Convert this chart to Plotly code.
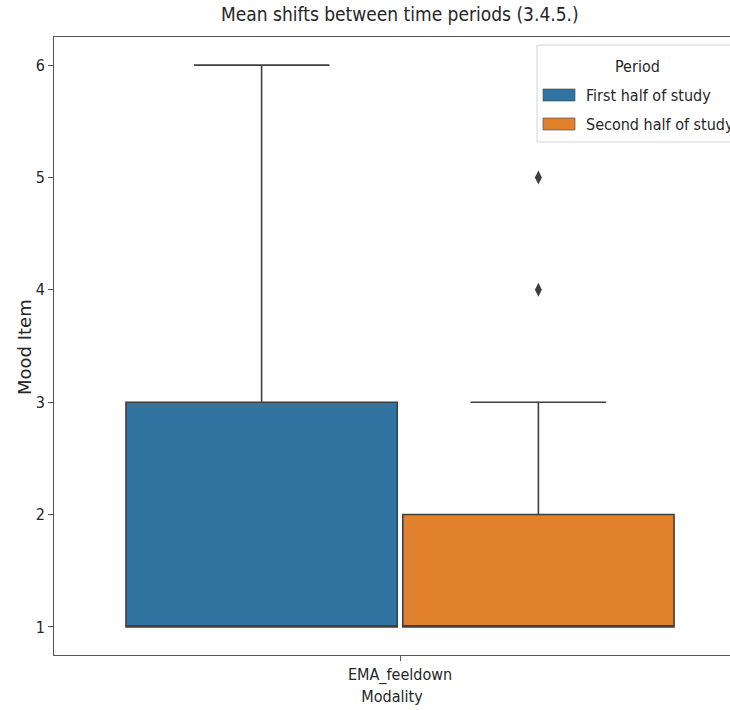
import plotly.graph_objects as go

# ---- data -------------------------------------------------------------
categories = ["EMA_feeldown"]
periods = ["First half of study", "Second half of study"]
period_colors = ["#3274a1", "#e1812c"]

# box summaries per period (one value per category)
first_q1 = [1]
first_median = [1]
first_q3 = [3]
first_lower = [1]
first_upper = [6]
first_outliers = [[]]

second_q1 = [1]
second_median = [1]
second_q3 = [2]
second_lower = [1]
second_upper = [3]
second_outliers = [[4, 5]]

y_ticks = [1, 2, 3, 4, 5, 6]

stats = [
    (first_q1, first_median, first_q3, first_lower, first_upper, first_outliers),
    (second_q1, second_median, second_q3, second_lower, second_upper, second_outliers),
]

# ---- layout constants -------------------------------------------------
W, H = 730, 710
ML, MR, MT, MB = 54, 0, 37, 55
PW, PH = W - ML - MR, H - MT - MB
FONT = "DejaVu Sans Condensed, DejaVu Sans, sans-serif"
FONT_V = "DejaVu Sans, sans-serif"
FS = 16
EDGE = "#3f3f3f"
TEXT = "#262626"

group_width = 0.8
slot = group_width / len(periods)
box_w = slot * 0.98
x_unit = 692  # pixels per category unit
x_range = [-0.5, -0.5 + PW / x_unit]


def px(x):
    return (x - ML) / PW


def py(y):
    return (H - MB - y) / PH


fig = go.Figure()

for ci, cat in enumerate(categories):
    for pi, (name, color, s) in enumerate(zip(periods, period_colors, stats)):
        q1, med, q3, lo, hi, outl = s
        pos = ci - group_width / 2 + slot * (pi + 0.5)
        fig.add_trace(go.Box(
            x=[pos], q1=[q1[ci]], median=[med[ci]], q3=[q3[ci]],
            lowerfence=[lo[ci]], upperfence=[hi[ci]],
            width=box_w, whiskerwidth=0.5,
            fillcolor=color, line=dict(color=EDGE, width=1.6),
            boxpoints=False, name=name, showlegend=False,
            hoverinfo="skip",
        ))
        if outl[ci]:
            fig.add_trace(go.Scatter(
                x=[pos] * len(outl[ci]), y=outl[ci], mode="markers",
                marker=dict(symbol="diamond-tall", size=10, color=EDGE,
                            line=dict(width=0)),
                showlegend=False, hoverinfo="skip",
            ))

# ---- legend drawn as patches + text ------------------------------------
shapes = [dict(type="rect", xref="paper", yref="paper",
               x0=px(537), x1=px(760), y0=py(142), y1=py(45),
               line=dict(color="#d4d4d4", width=1), fillcolor="rgba(255,255,255,0.8)",
               layer="above")]
annotations = [dict(text="Period", xref="paper", yref="paper",
                    x=px(637), y=py(66), xanchor="center", yanchor="middle",
                    showarrow=False, font=dict(family=FONT, size=FS, color=TEXT))]
for i, (name, color) in enumerate(zip(periods, period_colors)):
    yc = 95 + 29 * i
    shapes.append(dict(type="rect", xref="paper", yref="paper",
                       x0=px(543), x1=px(575), y0=py(yc + 6), y1=py(yc - 6),
                       fillcolor=color, line=dict(color=EDGE, width=0.6),
                       layer="above"))
    annotations.append(dict(text=name, xref="paper", yref="paper",
                            x=px(584), y=py(yc), xanchor="left", yanchor="middle",
                            showarrow=False,
                            font=dict(family=FONT, size=FS, color=TEXT)))

annotations.append(dict(text="Mean shifts between time periods (3.4.5.)",
                        xref="paper", yref="paper", x=px(400), y=py(14),
                        xanchor="center", yanchor="middle", showarrow=False,
                        font=dict(family=FONT, size=19, color=TEXT)))
annotations.append(dict(text="Mood Item", xref="paper", yref="paper",
                        x=px(25), y=py(347), xanchor="center", yanchor="middle",
                        textangle=-90, showarrow=False,
                        font=dict(family=FONT_V, size=18, color=TEXT)))

fig.update_layout(
    width=W, height=H,
    margin=dict(l=ML, r=MR, t=MT, b=MB, autoexpand=False),
    plot_bgcolor="white", paper_bgcolor="white",
    showlegend=False,
    shapes=shapes, annotations=annotations,
    font=dict(family=FONT, size=FS, color=TEXT),
)
fig.update_xaxes(
    range=x_range, tickvals=list(range(len(categories))), ticktext=categories,
    ticks="outside", ticklen=5, tickcolor="#555", showline=True, mirror=True,
    linecolor="#555", linewidth=1, showgrid=False, zeroline=False,
    title=dict(text="Modality", standoff=6, font=dict(family=FONT, size=FS, color=TEXT)),
    tickfont=dict(family=FONT, size=FS, color=TEXT),
)
fig.update_yaxes(
    range=[0.75, 6.25], tickvals=y_ticks, ticks="outside", ticklen=5,
    tickcolor="#555", showline=True, mirror=False, linecolor="#555",
    linewidth=1, showgrid=False, zeroline=False,
    tickfont=dict(family=FONT, size=FS, color=TEXT),
)

fig.write_html("out.html")
